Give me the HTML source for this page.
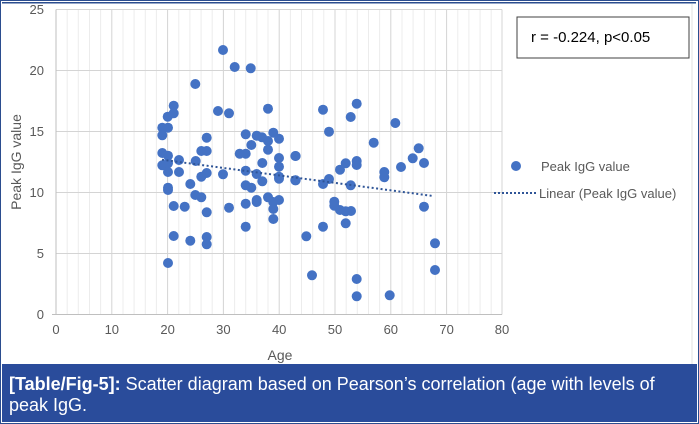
<!DOCTYPE html>
<html><head><meta charset="utf-8"><style>
html,body{margin:0;padding:0;background:#fff;}
svg{display:block;font-family:"Liberation Sans",sans-serif;}
</style></head><body>
<svg width="699" height="424" viewBox="0 0 699 424" xmlns="http://www.w3.org/2000/svg">
<rect x="0.5" y="0.5" width="698" height="423" fill="#fff" stroke="#2b4d8f" stroke-width="1"/>
<rect x="2" y="2" width="694" height="1.5" fill="#2b4d8f"/>
<g stroke="#ececec" stroke-width="1">
<line x1="67.2" y1="9.5" x2="67.2" y2="314.5"/><line x1="78.3" y1="9.5" x2="78.3" y2="314.5"/><line x1="89.5" y1="9.5" x2="89.5" y2="314.5"/><line x1="100.6" y1="9.5" x2="100.6" y2="314.5"/>
<line x1="123" y1="9.5" x2="123" y2="314.5"/><line x1="134.1" y1="9.5" x2="134.1" y2="314.5"/><line x1="145.3" y1="9.5" x2="145.3" y2="314.5"/><line x1="156.4" y1="9.5" x2="156.4" y2="314.5"/>
<line x1="178.8" y1="9.5" x2="178.8" y2="314.5"/><line x1="189.9" y1="9.5" x2="189.9" y2="314.5"/><line x1="201.1" y1="9.5" x2="201.1" y2="314.5"/><line x1="212.2" y1="9.5" x2="212.2" y2="314.5"/>
<line x1="234.6" y1="9.5" x2="234.6" y2="314.5"/><line x1="245.7" y1="9.5" x2="245.7" y2="314.5"/><line x1="256.9" y1="9.5" x2="256.9" y2="314.5"/><line x1="268" y1="9.5" x2="268" y2="314.5"/>
<line x1="290.4" y1="9.5" x2="290.4" y2="314.5"/><line x1="301.5" y1="9.5" x2="301.5" y2="314.5"/><line x1="312.7" y1="9.5" x2="312.7" y2="314.5"/><line x1="323.8" y1="9.5" x2="323.8" y2="314.5"/>
<line x1="346.2" y1="9.5" x2="346.2" y2="314.5"/><line x1="357.3" y1="9.5" x2="357.3" y2="314.5"/><line x1="368.5" y1="9.5" x2="368.5" y2="314.5"/><line x1="379.6" y1="9.5" x2="379.6" y2="314.5"/>
<line x1="402" y1="9.5" x2="402" y2="314.5"/><line x1="413.1" y1="9.5" x2="413.1" y2="314.5"/><line x1="424.3" y1="9.5" x2="424.3" y2="314.5"/><line x1="435.4" y1="9.5" x2="435.4" y2="314.5"/>
<line x1="457.8" y1="9.5" x2="457.8" y2="314.5"/><line x1="468.9" y1="9.5" x2="468.9" y2="314.5"/><line x1="480.1" y1="9.5" x2="480.1" y2="314.5"/><line x1="491.2" y1="9.5" x2="491.2" y2="314.5"/>
</g>
<g stroke="#ececec" stroke-width="1" id="hm"></g>
<script>
(function(){var g=document.getElementById('hm');var s='';for(var i=1;i<25;i++){if(i%5==0)continue;var y=314.5-i*12.2;s+='<line x1="56" x2="502" y1="'+y+'" y2="'+y+'"/>';}g.innerHTML=s;})();
</script>
<g stroke="#d4d4d4" stroke-width="1">
<line x1="111.8" y1="9.5" x2="111.8" y2="314.5"/><line x1="167.6" y1="9.5" x2="167.6" y2="314.5"/><line x1="223.4" y1="9.5" x2="223.4" y2="314.5"/><line x1="279.2" y1="9.5" x2="279.2" y2="314.5"/><line x1="335" y1="9.5" x2="335" y2="314.5"/><line x1="390.8" y1="9.5" x2="390.8" y2="314.5"/><line x1="446.6" y1="9.5" x2="446.6" y2="314.5"/><line x1="502" y1="9.5" x2="502" y2="314.5"/>
<line x1="56" y1="9.5" x2="502" y2="9.5"/><line x1="56" y1="70.5" x2="502" y2="70.5"/><line x1="56" y1="131.5" x2="502" y2="131.5"/><line x1="56" y1="192.5" x2="502" y2="192.5"/><line x1="56" y1="253.5" x2="502" y2="253.5"/>
</g>
<line x1="56" y1="9.5" x2="56" y2="314.5" stroke="#bfbfbf"/>
<line x1="52" y1="314.5" x2="502" y2="314.5" stroke="#bfbfbf"/>
<g font-size="13" fill="#595959" text-anchor="end">
<text x="44" y="319">0</text><text x="44" y="258">5</text><text x="44" y="197">10</text><text x="44" y="136">15</text><text x="44" y="75">20</text><text x="44" y="14">25</text>
</g>
<g font-size="13" fill="#595959" text-anchor="middle">
<text x="56" y="334">0</text><text x="111.8" y="334">10</text><text x="167.6" y="334">20</text><text x="223.4" y="334">30</text><text x="279.2" y="334">40</text><text x="335" y="334">50</text><text x="390.8" y="334">60</text><text x="446.6" y="334">70</text><text x="502" y="334">80</text>
<text x="280" y="360" font-size="14">Age</text>
<text transform="translate(21,162) rotate(-90)" font-size="14">Peak IgG value</text>
</g>
<g fill="#4472c4">
<circle cx="223" cy="50" r="5"/><circle cx="234.7" cy="67" r="5"/><circle cx="250.7" cy="68.3" r="5"/><circle cx="195.3" cy="84" r="5"/><circle cx="173.7" cy="105.7" r="5"/><circle cx="173.7" cy="113.3" r="5"/><circle cx="167.7" cy="116.7" r="5"/><circle cx="218" cy="111" r="5"/><circle cx="229" cy="113.3" r="5"/><circle cx="268" cy="108.7" r="5"/><circle cx="162.3" cy="127.7" r="5"/><circle cx="168" cy="127.7" r="5"/><circle cx="162.3" cy="135.3" r="5"/><circle cx="206.7" cy="137.7" r="5"/><circle cx="245.7" cy="134.3" r="5"/><circle cx="256.7" cy="135.7" r="5"/><circle cx="262" cy="137.3" r="5"/><circle cx="268" cy="141" r="5"/><circle cx="273.3" cy="132.7" r="5"/><circle cx="279" cy="138.7" r="5"/><circle cx="251.3" cy="145" r="5"/><circle cx="268" cy="149.7" r="5"/><circle cx="201.3" cy="151" r="5"/><circle cx="206.7" cy="151" r="5"/><circle cx="162.3" cy="153" r="5"/><circle cx="168" cy="155.7" r="5"/><circle cx="239.7" cy="153.7" r="5"/><circle cx="245.7" cy="153.7" r="5"/><circle cx="295.7" cy="156" r="5"/><circle cx="179" cy="160" r="5"/><circle cx="279" cy="158" r="5"/><circle cx="162.3" cy="165.3" r="5"/><circle cx="168" cy="163.3" r="5"/><circle cx="195.7" cy="161" r="5"/><circle cx="262.3" cy="163" r="5"/><circle cx="279" cy="166.7" r="5"/><circle cx="168" cy="172" r="5"/><circle cx="179" cy="172" r="5"/><circle cx="206.7" cy="173" r="5"/><circle cx="245.7" cy="170.7" r="5"/><circle cx="201.3" cy="176.7" r="5"/><circle cx="223" cy="174.3" r="5"/><circle cx="256.7" cy="174" r="5"/><circle cx="279" cy="176.7" r="5"/><circle cx="279" cy="178.7" r="5"/><circle cx="295.7" cy="180.3" r="5"/><circle cx="262.3" cy="181.3" r="5"/><circle cx="190.3" cy="184" r="5"/><circle cx="245.7" cy="185.3" r="5"/><circle cx="251.3" cy="187.7" r="5"/><circle cx="168" cy="187.7" r="5"/><circle cx="168" cy="190" r="5"/><circle cx="195.3" cy="195" r="5"/><circle cx="201.3" cy="197.3" r="5"/><circle cx="268" cy="197.3" r="5"/><circle cx="279" cy="200" r="5"/><circle cx="256.7" cy="200" r="5"/><circle cx="256.7" cy="202" r="5"/><circle cx="273.3" cy="202" r="5"/><circle cx="245.7" cy="203.7" r="5"/><circle cx="173.7" cy="206" r="5"/><circle cx="184.7" cy="206.7" r="5"/><circle cx="229" cy="207.7" r="5"/><circle cx="273.3" cy="209" r="5"/><circle cx="206.7" cy="212.3" r="5"/><circle cx="273.3" cy="219" r="5"/><circle cx="245.7" cy="226.7" r="5"/><circle cx="173.7" cy="236" r="5"/><circle cx="190.3" cy="240.7" r="5"/><circle cx="206.7" cy="237" r="5"/><circle cx="206.7" cy="244.3" r="5"/><circle cx="168" cy="263" r="5"/>
<circle cx="356.7" cy="103.7" r="5"/><circle cx="323" cy="109.7" r="5"/><circle cx="350.7" cy="117" r="5"/><circle cx="395.3" cy="123" r="5"/><circle cx="329" cy="131.7" r="5"/><circle cx="373.7" cy="142.7" r="5"/><circle cx="418.7" cy="148.3" r="5"/><circle cx="295.3" cy="156" r="5"/><circle cx="412.7" cy="158.3" r="5"/><circle cx="356.7" cy="161" r="5"/><circle cx="345.7" cy="163.3" r="5"/><circle cx="356.7" cy="165" r="5"/><circle cx="424" cy="163" r="5"/><circle cx="401" cy="167" r="5"/><circle cx="340" cy="169.7" r="5"/><circle cx="384.3" cy="172" r="5"/><circle cx="384.3" cy="177.3" r="5"/><circle cx="295.3" cy="180.3" r="5"/><circle cx="329" cy="179" r="5"/><circle cx="323" cy="184" r="5"/><circle cx="350.7" cy="185.3" r="5"/><circle cx="334.3" cy="201.7" r="5"/><circle cx="334.3" cy="205.7" r="5"/><circle cx="340" cy="210" r="5"/><circle cx="345.7" cy="211.3" r="5"/><circle cx="351" cy="211" r="5"/><circle cx="424" cy="206.7" r="5"/><circle cx="345.7" cy="223.3" r="5"/><circle cx="323" cy="226.7" r="5"/><circle cx="306.3" cy="236.3" r="5"/><circle cx="435" cy="243.3" r="5"/><circle cx="312" cy="275.3" r="5"/><circle cx="435" cy="270" r="5"/><circle cx="356.7" cy="279" r="5"/><circle cx="356.7" cy="296.3" r="5"/><circle cx="389.7" cy="295.3" r="5"/>
</g>
<line x1="162" y1="159.7" x2="433" y2="196" stroke="#2f5597" stroke-width="2" stroke-dasharray="2,2.5"/>
<rect x="517" y="17" width="172" height="41" fill="#fff" stroke="#404040" stroke-width="1"/>
<text x="531" y="42" font-size="15" fill="#000">r = -0.224, p&lt;0.05</text>
<circle cx="516" cy="166" r="5" fill="#4472c4"/>
<text x="541" y="171" font-size="13" fill="#595959">Peak IgG value</text>
<line x1="494" y1="193" x2="536" y2="193" stroke="#2f5597" stroke-width="2" stroke-dasharray="2,2"/>
<text x="539" y="198" font-size="13" fill="#595959">Linear (Peak IgG value)</text>
<line x1="692" y1="4" x2="692" y2="364" stroke="#e0e0e0"/>
<rect x="2" y="364" width="695" height="58" fill="#2a4c9b"/>
<text x="9" y="390" font-size="18" fill="#fff"><tspan font-weight="bold">[Table/Fig-5]:</tspan> Scatter diagram based on Pearson’s correlation (age with levels of</text>
<text x="9" y="411" font-size="18" fill="#fff">peak IgG.</text>
</svg>
</body></html>
